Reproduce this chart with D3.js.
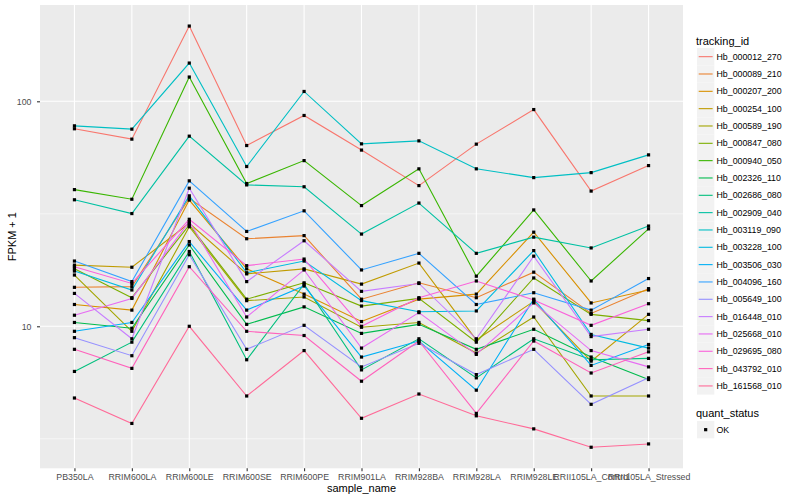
<!DOCTYPE html>
<html>
<head>
<meta charset="utf-8">
<script src="https://cdn.jsdelivr.net/npm/d3@7"></script>
<style>
  body { margin: 0; background: #fff; }
  text { font-family: "Liberation Sans", Arial, sans-serif; }
</style>
</head>
<body>
<svg width="800" height="500"></svg>
<script>
// samples on the x axis
var samples = ['PB350LA', 'RRIM600LA', 'RRIM600LE', 'RRIM600SE', 'RRIM600PE', 'RRIM901LA',
  'RRIM928BA', 'RRIM928LA', 'RRIM928LE', 'RRII105LA_Control', 'RRII105LA_Stressed']

var trackingIds = ['Hb_000012_270', 'Hb_000089_210', 'Hb_000207_200', 'Hb_000254_100',
  'Hb_000589_190', 'Hb_000847_080', 'Hb_000940_050', 'Hb_002326_110', 'Hb_002686_080',
  'Hb_002909_040', 'Hb_003119_090', 'Hb_003228_100', 'Hb_003506_030', 'Hb_004096_160',
  'Hb_005649_100', 'Hb_016448_010', 'Hb_025668_010', 'Hb_029695_080', 'Hb_043792_010',
  'Hb_161568_010']

// FPKM + 1, one array per gene, in sample order
var hb_000012_270 = [75.5, 67.9, 216, 63.6, 86.5, 60.7, 42.2, 64.5, 91.9, 39.9, 51.8]
var hb_000089_210 = [14.9, 15.0, 37.1, 24.5, 25.3, 13.2, 15.6, 13.4, 17.4, 11.4, 14.7]
var hb_000207_200 = [12.5, 11.8, 36.4, 18.0, 13.9, 10.5, 13.2, 13.9, 26.2, 12.7, 14.5]
var hb_000254_100 = [18.7, 18.3, 28.7, 17.1, 18.0, 15.4, 19.1, 8.7, 12.9, 7.0, 11.3]
var hb_000589_190 = [16.9, 9.5, 27.7, 13.0, 13.5, 9.9, 10.4, 7.6, 11.0, 4.9, 4.9]
var hb_000847_080 = [18.0, 13.4, 28.2, 13.2, 15.6, 12.3, 13.3, 8.5, 16.4, 11.3, 10.6]
var hb_000940_050 = [40.5, 36.7, 128.2, 43.1, 54.5, 34.4, 50.1, 16.7, 32.9, 15.9, 27.1]
var hb_002326_110 = [10.4, 9.8, 23.0, 10.2, 12.2, 9.3, 10.2, 7.9, 9.7, 7.3, 5.8]
var hb_002686_080 = [6.3, 8.5, 21.5, 7.1, 15.4, 6.4, 8.8, 5.9, 8.8, 7.1, 7.2]
var hb_002909_040 = [36.5, 31.7, 70.0, 42.5, 41.7, 25.7, 35.3, 21.1, 24.9, 22.3, 27.9]
var hb_003119_090 = [77.8, 75.2, 147.9, 51.3, 110.6, 64.7, 66.7, 50.1, 45.8, 48.2, 57.8]
var hb_003228_100 = [17.6, 14.5, 38.0, 17.3, 19.5, 13.0, 11.6, 11.7, 21.7, 9.2, 8.0]
var hb_003506_030 = [9.5, 10.4, 23.8, 11.8, 15.1, 7.3, 8.6, 5.2, 13.2, 6.7, 8.3]
var hb_004096_160 = [19.5, 15.8, 44.3, 26.4, 32.6, 17.8, 21.1, 12.5, 14.1, 11.8, 16.3]
var hb_005649_100 = [8.9, 7.4, 20.8, 7.9, 10.1, 6.6, 8.4, 6.1, 7.9, 4.5, 5.9]
var hb_016448_010 = [14.0, 8.8, 41.1, 15.8, 24.0, 14.3, 15.5, 8.8, 20.5, 9.0, 9.7]
var hb_025668_010 = [11.2, 13.3, 29.2, 11.0, 17.8, 8.0, 11.5, 7.5, 12.7, 7.8, 6.6]
var hb_029695_080 = [18.4, 15.5, 29.9, 18.6, 19.9, 10.0, 13.4, 15.9, 13.1, 10.1, 12.6]
var hb_043792_010 = [7.9, 6.5, 18.4, 9.5, 9.1, 5.7, 8.6, 4.1, 8.6, 6.2, 7.7]
var hb_161568_010 = [4.8, 3.7, 10.0, 4.9, 7.8, 3.9, 5.0, 4.0, 3.5, 2.9, 3.0]

var seriesValues = [hb_000012_270, hb_000089_210, hb_000207_200, hb_000254_100,
  hb_000589_190, hb_000847_080, hb_000940_050, hb_002326_110, hb_002686_080,
  hb_002909_040, hb_003119_090, hb_003228_100, hb_003506_030, hb_004096_160,
  hb_005649_100, hb_016448_010, hb_025668_010, hb_029695_080, hb_043792_010,
  hb_161568_010]

var yTicks = [10, 100]
var quantStatus = ['OK']

// ggplot-like hue palette (polar LUV -> sRGB)
function hclHex(h, c, l) {
  var wu = 0.1978398, wv = 0.4683363
  var rad = h * Math.PI / 180
  var U = c * Math.cos(rad), V = c * Math.sin(rad)
  var Y = 100 * (l > 7.999592 ? Math.pow((l + 16) / 116, 3) : l / 903.3)
  var u = U / (13 * l) + wu, v = V / (13 * l) + wv
  var X = 9 * Y * u / (4 * v)
  var Z = -X / 3 - 5 * Y + 3 * Y / v
  function g(t) { t = t / 100; t = t > 0.00304 ? 1.055 * Math.pow(t, 1 / 2.4) - 0.055 : 12.92 * t; return Math.max(0, Math.min(1, t)) }
  var r = g(3.240479 * X - 1.537150 * Y - 0.498535 * Z)
  var gg = g(-0.969256 * X + 1.875992 * Y + 0.041556 * Z)
  var b = g(0.055648 * X - 0.204043 * Y + 1.057311 * Z)
  return d3.rgb(Math.round(r * 255), Math.round(gg * 255), Math.round(b * 255)).formatHex()
}
var colors = trackingIds.map(function(d, i) {
  return hclHex(15 + i * 360 / trackingIds.length, 100, 65)
})

var svg = d3.select('svg')
var panel = {left: 40, right: 683, top: 5, bottom: 468.3}

// scales
var x = d3.scalePoint().domain(samples).range([panel.left, panel.right]).padding(0.6)
var allVals = d3.merge(seriesValues)
var lo = Math.log10(d3.min(allVals)), hi = Math.log10(d3.max(allVals))
var pad = (hi - lo) * 0.05
var y = d3.scaleLog().domain([Math.pow(10, lo - pad), Math.pow(10, hi + pad)])
  .range([panel.bottom, panel.top])

// panel background + grid
svg.append('rect')
  .attr('x', panel.left).attr('y', panel.top)
  .attr('width', panel.right - panel.left).attr('height', panel.bottom - panel.top)
  .attr('fill', '#EBEBEB')

var minor = [0.5, 1.5, 2.5].map(function(e) { return Math.pow(10, e) })
  .filter(function(v) { return v > y.domain()[0] && v < y.domain()[1] })
svg.selectAll('.minor').data(minor).enter().append('line')
  .attr('x1', panel.left).attr('x2', panel.right)
  .attr('y1', function(d) { return y(d) }).attr('y2', function(d) { return y(d) })
  .attr('stroke', '#fff').attr('stroke-width', 0.55)
svg.selectAll('.majy').data(yTicks).enter().append('line')
  .attr('x1', panel.left).attr('x2', panel.right)
  .attr('y1', function(d) { return y(d) }).attr('y2', function(d) { return y(d) })
  .attr('stroke', '#fff').attr('stroke-width', 1.1)
svg.selectAll('.majx').data(samples).enter().append('line')
  .attr('x1', function(d) { return x(d) }).attr('x2', function(d) { return x(d) })
  .attr('y1', panel.top).attr('y2', panel.bottom)
  .attr('stroke', '#fff').attr('stroke-width', 1.1)

// lines
var line = d3.line()
  .x(function(d, i) { return x(samples[i]) })
  .y(function(d) { return y(d) })
seriesValues.forEach(function(vals, i) {
  svg.append('path')
    .attr('d', line(vals))
    .attr('fill', 'none')
    .attr('stroke', colors[i])
    .attr('stroke-width', 1.1)
})

// points
seriesValues.forEach(function(vals) {
  svg.selectAll(null).data(vals).enter().append('rect')
    .attr('x', function(d, i) { return x(samples[i]) - 1.6 })
    .attr('y', function(d) { return y(d) - 1.6 })
    .attr('width', 3.2).attr('height', 3.2)
    .attr('fill', '#000')
})

// axes
var yAxis = svg.append('g')
  .attr('transform', 'translate(' + panel.left + ',0)')
  .call(d3.axisLeft(y).tickValues(yTicks).tickFormat(d3.format('d')).tickSize(3).tickPadding(5.5))
var xAxis = svg.append('g')
  .attr('transform', 'translate(0,' + panel.bottom + ')')
  .call(d3.axisBottom(x).tickSize(3).tickPadding(2.5))
;[xAxis, yAxis].forEach(function(ax) {
  ax.select('.domain').remove()
  ax.selectAll('line').attr('stroke', '#333333').attr('stroke-width', 1.1)
  ax.selectAll('text').attr('fill', '#4D4D4D').style('font-size', '8.8px')
    .style('font-family', '"Liberation Sans", Arial, sans-serif')
})

svg.append('text')
  .attr('x', (panel.left + panel.right) / 2).attr('y', 492)
  .attr('text-anchor', 'middle').attr('font-size', 11).attr('fill', '#000')
  .text('sample_name')
svg.append('text')
  .attr('transform', 'translate(16,' + (panel.top + panel.bottom) / 2 + ') rotate(-90)')
  .attr('text-anchor', 'middle').attr('font-size', 11).attr('fill', '#000')
  .text('FPKM + 1')

// legend: tracking_id
var lg = svg.append('g').attr('transform', 'translate(697,0)')
lg.append('text').attr('x', -1).attr('y', 44.5).attr('font-size', 11).text('tracking_id')
var keyH = 17.33
trackingIds.forEach(function(id, i) {
  var top = 48 + i * keyH
  lg.append('rect').attr('x', 0).attr('y', top).attr('width', keyH).attr('height', keyH)
    .attr('fill', '#F2F2F2')
  lg.append('line').attr('x1', 1.7).attr('x2', keyH - 1.7)
    .attr('y1', top + keyH / 2).attr('y2', top + keyH / 2)
    .attr('stroke', colors[i]).attr('stroke-width', 1.1)
  lg.append('text').attr('x', 19.5).attr('y', top + keyH / 2 + 3.1)
    .attr('font-size', 8.8).attr('fill', '#000').text(id)
})

// legend: quant_status
lg.append('text').attr('x', -1).attr('y', 417).attr('font-size', 11).text('quant_status')
quantStatus.forEach(function(q, i) {
  var top = 421 + i * keyH
  lg.append('rect').attr('x', 0).attr('y', top).attr('width', keyH).attr('height', keyH)
    .attr('fill', '#F2F2F2')
  lg.append('rect').attr('x', keyH / 2 - 1.6).attr('y', top + keyH / 2 - 1.6)
    .attr('width', 3.2).attr('height', 3.2).attr('fill', '#000')
  lg.append('text').attr('x', 19.5).attr('y', top + keyH / 2 + 3.1)
    .attr('font-size', 8.8).attr('fill', '#000').text(q)
})
</script>
</body>
</html>
